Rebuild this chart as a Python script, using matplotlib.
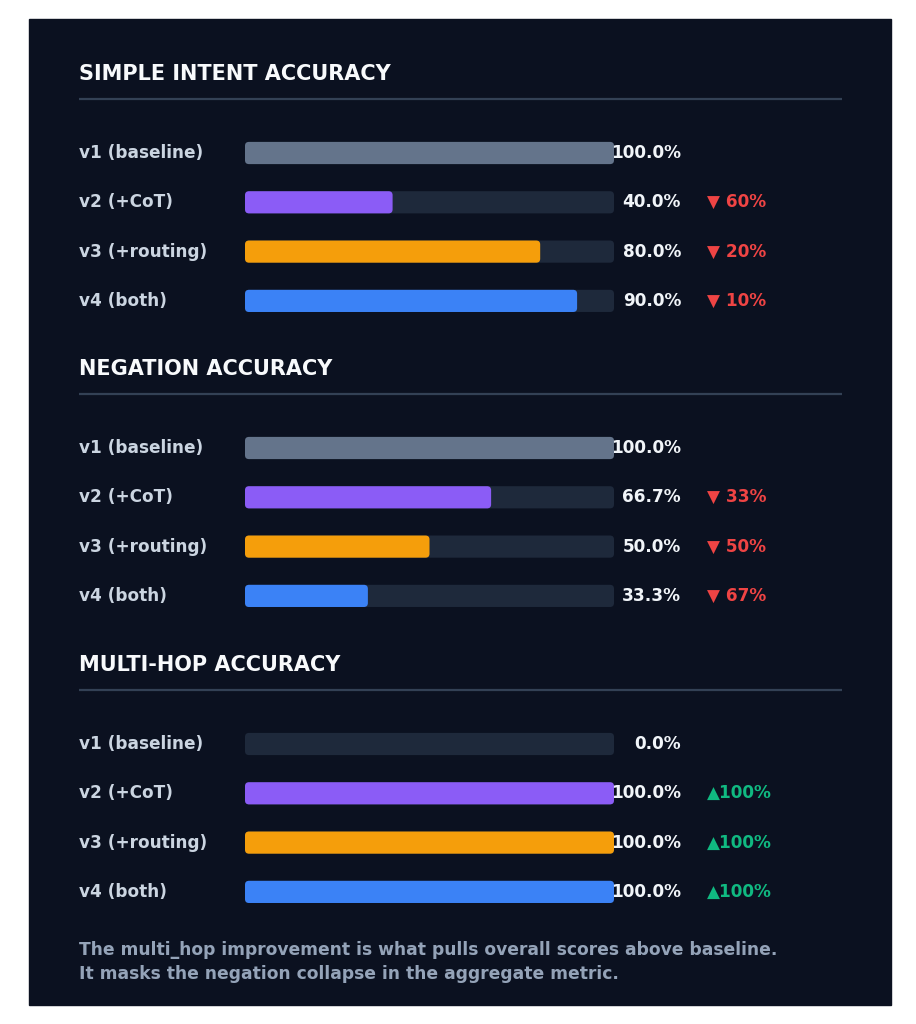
import matplotlib
matplotlib.use("Agg")
import matplotlib.pyplot as plt
from matplotlib.patches import FancyBboxPatch, Rectangle

# data
versions = ["v1 (baseline)", "v2 (+CoT)", "v3 (+routing)", "v4 (both)"]
sections = ["SIMPLE INTENT ACCURACY", "NEGATION ACCURACY", "MULTI-HOP ACCURACY"]
simple_intent = [100.0, 40.0, 80.0, 90.0]
negation = [100.0, 66.7, 50.0, 33.3]
multi_hop = [0.0, 100.0, 100.0, 100.0]
footer = ["The multi_hop improvement is what pulls overall scores above baseline.",
          "It masks the negation collapse in the aggregate metric."]

BG = "#0b1120"
TRACK = "#1e293b"
BAR_COLORS = ["#64748b", "#8b5cf6", "#f59e0b", "#3b82f6"]
RED = "#ef4444"
GREEN = "#10b981"

W, H = 916, 1024
fig = plt.figure(figsize=(W / 100, H / 100), dpi=100)
fig.patch.set_facecolor("white")
fig.add_artist(Rectangle((29 / W, 1 - 1005 / H), 862 / W, 986 / H,
                         transform=fig.transFigure, color=BG, zorder=0))

ROW = 49.3            # px between rows
BAR_L, BAR_R = 245, 614
XPX = 100 / (BAR_R - BAR_L)   # x data units per px
FS = 12.2


def px_x(p):
    return (p - BAR_L) * XPX


def rounded(ax, x, y, w, h, color):
    r = 4 * XPX
    aspect = (1 / ROW) / XPX
    ax.add_patch(FancyBboxPatch((x, y), w, h,
                                boxstyle=f"round,pad=0,rounding_size={r}",
                                mutation_aspect=aspect, fc=color, ec="none",
                                clip_on=False))


all_vals = [simple_intent, negation, multi_hop]
row0 = [153, 448, 744]

for k, (title, vals) in enumerate(zip(sections, all_vals)):
    top = row0[k] - ROW / 2
    ax = fig.add_axes([BAR_L / W, 1 - (top + 4 * ROW) / H,
                       (BAR_R - BAR_L) / W, 4 * ROW / H])
    ax.set_xlim(0, 100)
    ax.set_ylim(3.5, -0.5)
    ax.axis("off")
    rows = list(range(len(versions)))

    tracks = ax.barh(rows, [100] * len(rows), height=0.45)
    bars = ax.barh(rows, vals, height=0.45)
    for rect in list(tracks) + list(bars):
        rect.set_visible(False)
    for rect in tracks:
        rounded(ax, rect.get_x(), rect.get_y(), rect.get_width(), rect.get_height(), TRACK)
    for rect, c in zip(bars, BAR_COLORS):
        if rect.get_width() > 0:
            rounded(ax, rect.get_x(), rect.get_y(), rect.get_width(), rect.get_height(), c)

    base = vals[0]
    for i, (name, v) in enumerate(zip(versions, vals)):
        ax.text(px_x(79), i, name, ha="left", va="center", fontsize=FS,
                fontweight="bold", color="#cbd5e1")
        ax.text(px_x(681), i, f"{v:.1f}%", ha="right", va="center", fontsize=FS,
                fontweight="bold", color="#f1f5f9")
        if i > 0:
            d = v - base
            if d < 0:
                s, c = f"\u25bc {abs(d):.0f}%", RED
            else:
                s, c = f"\u25b2{d:.0f}%", GREEN
            ax.text(px_x(707), i, s, ha="left", va="center", fontsize=FS,
                    fontweight="bold", color=c)

    ax.text(px_x(79), -79 / ROW, title, ha="left", va="center", fontsize=15,
            fontweight="bold", color="#f8fafc")
    ly = -54 / ROW
    ax.plot([px_x(79), px_x(842)], [ly, ly], color="#334155", lw=1.6,
            clip_on=False, solid_capstyle="butt")

for j, line in enumerate(footer):
    fig.text(79 / W, 1 - (950 + 24 * j) / H, line, ha="left", va="center",
             fontsize=12.3, fontweight="bold", color="#94a3b8")

fig.savefig("out.png", dpi=100, facecolor=fig.get_facecolor())
